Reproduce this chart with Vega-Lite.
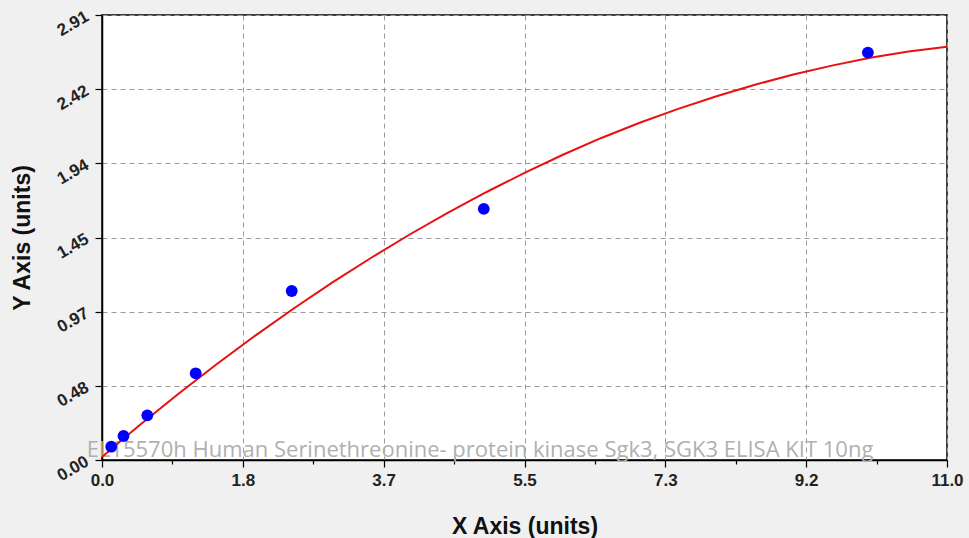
{
  "$schema": "https://vega.github.io/schema/vega-lite/v6.json",
  "width": 845,
  "height": 445,
  "autosize": {"type": "none"},
  "padding": {"left": 102, "top": 15, "right": 22, "bottom": 78},
  "background": "#f0f0f0",
  "datasets": {
    "points": [
      {"x": 0.12, "y": 0.087},
      {"x": 0.28, "y": 0.157},
      {"x": 0.59, "y": 0.292},
      {"x": 1.22, "y": 0.567},
      {"x": 2.47, "y": 1.105},
      {"x": 4.97, "y": 1.642},
      {"x": 9.97, "y": 2.664}
    ],
    "curve": [
      {"x": 0, "y": 0.02},
      {"x": 0.25, "y": 0.127},
      {"x": 0.5, "y": 0.232},
      {"x": 1, "y": 0.435},
      {"x": 1.5, "y": 0.629},
      {"x": 2, "y": 0.815},
      {"x": 2.5, "y": 0.992},
      {"x": 3, "y": 1.161},
      {"x": 3.5, "y": 1.321},
      {"x": 4, "y": 1.473},
      {"x": 4.5, "y": 1.616},
      {"x": 5, "y": 1.751},
      {"x": 5.5, "y": 1.877},
      {"x": 6, "y": 1.996},
      {"x": 6.5, "y": 2.106},
      {"x": 7, "y": 2.205},
      {"x": 7.5, "y": 2.296},
      {"x": 8, "y": 2.379},
      {"x": 8.5, "y": 2.454},
      {"x": 9, "y": 2.521},
      {"x": 9.5, "y": 2.579},
      {"x": 10, "y": 2.63},
      {"x": 10.5, "y": 2.671},
      {"x": 11, "y": 2.703}
    ],
    "note": [
      {"x": -0.2, "y": 0.02, "label": "EL15570h Human Serinethreonine- protein kinase Sgk3, SGK3 ELISA KIT 10ng"}
    ]
  },
  "layer": [
    {
      "data": {"name": "note"},
      "mark": {"type": "text", "align": "left", "baseline": "alphabetic", "font": "Open Sans", "fontSize": 22, "color": "#b0b0b0"},
      "encoding": {
        "x": {"field": "x", "type": "quantitative"},
        "y": {"field": "y", "type": "quantitative"},
        "text": {"field": "label", "type": "nominal"}
      }
    },
    {
      "data": {"name": "curve"},
      "mark": {"type": "line", "color": "#e81010", "strokeWidth": 2},
      "encoding": {
        "x": {
          "field": "x",
          "type": "quantitative",
          "scale": {"domain": [0, 11], "nice": false, "zero": false},
          "axis": {
            "values": [0, 0.458333, 0.916667, 1.375, 1.833333, 2.291667, 2.75, 3.208333, 3.666667, 4.125, 4.583333, 5.041667, 5.5, 5.958333, 6.416667, 6.875, 7.333333, 7.791667, 8.25, 8.708333, 9.166667, 9.625, 10.083333, 10.541667, 11],
            "labelExpr": "abs(datum.value*6/11 - round(datum.value*6/11)) < 0.01 ? format(datum.value, '.1f') : ''",
            "labelFont": "Liberation Sans",
            "labelFontWeight": "bold",
            "labelFontSize": 17,
            "labelColor": "#222222",
            "labelOverlap": false,
            "labelFlush": false,
            "labelPadding": 5,
            "tickColor": "black",
            "tickWidth": 1.2,
            "tickSize": {"condition": {"test": "abs(datum.value*6/11 - round(datum.value*6/11)) < 0.01", "value": 7}, "value": 4},
            "domainColor": "black",
            "domainWidth": 1.5,
            "grid": true,
            "gridColor": "#9a9a9a",
            "gridDash": [5, 4],
            "gridOpacity": {"condition": {"test": "abs(datum.value*6/11 - round(datum.value*6/11)) < 0.01", "value": 1}, "value": 0},
            "title": "X Axis (units)",
            "titleFont": "Liberation Sans",
            "titleFontSize": 23,
            "titleFontWeight": "bold",
            "titleColor": "#111111",
            "titleY": 73,
            "titleBaseline": "alphabetic"
          }
        },
        "y": {
          "field": "y",
          "type": "quantitative",
          "scale": {"domain": [0, 2.91], "nice": false},
          "axis": {
            "values": [0, 0.12125, 0.2425, 0.36375, 0.485, 0.60625, 0.7275, 0.84875, 0.97, 1.09125, 1.2125, 1.33375, 1.455, 1.57625, 1.6975, 1.81875, 1.94, 2.06125, 2.1825, 2.30375, 2.425, 2.54625, 2.6675, 2.78875, 2.91],
            "labelExpr": "abs(datum.value/0.485 - round(datum.value/0.485)) < 0.01 ? format(floor(datum.value*100 + 0.001)/100, '.2f') : ''",
            "labelFont": "Liberation Sans",
            "labelFontWeight": "bold",
            "labelFontSize": 17,
            "labelColor": "#222222",
            "labelOverlap": false,
            "labelFlush": false,
            "labelAngle": -30,
            "labelAlign": "right",
            "labelBaseline": "middle",
            "labelPadding": 8,
            "tickColor": "black",
            "tickWidth": 1.2,
            "tickSize": {"condition": {"test": "abs(datum.value/0.485 - round(datum.value/0.485)) < 0.01", "value": 7}, "value": 4},
            "domainColor": "black",
            "domainWidth": 1.5,
            "grid": true,
            "gridColor": "#9a9a9a",
            "gridDash": [5, 4],
            "gridOpacity": {"condition": {"test": "abs(datum.value/0.485 - round(datum.value/0.485)) < 0.01", "value": 1}, "value": 0},
            "title": "Y Axis (units)",
            "titleFont": "Liberation Sans",
            "titleFontSize": 23,
            "titleFontWeight": "bold",
            "titleColor": "#111111",
            "titleAngle": -90,
            "titleX": -73,
            "titleY": 222.5,
            "titleAlign": "center",
            "titleBaseline": "alphabetic"
          }
        }
      }
    },
    {
      "data": {"name": "points"},
      "mark": {"type": "circle", "color": "#0000ff", "opacity": 1, "size": 140},
      "encoding": {
        "x": {"field": "x", "type": "quantitative"},
        "y": {"field": "y", "type": "quantitative"}
      }
    }
  ],
  "config": {
    "view": {"fill": "white", "stroke": "black", "strokeWidth": 1.5}
  }
}
